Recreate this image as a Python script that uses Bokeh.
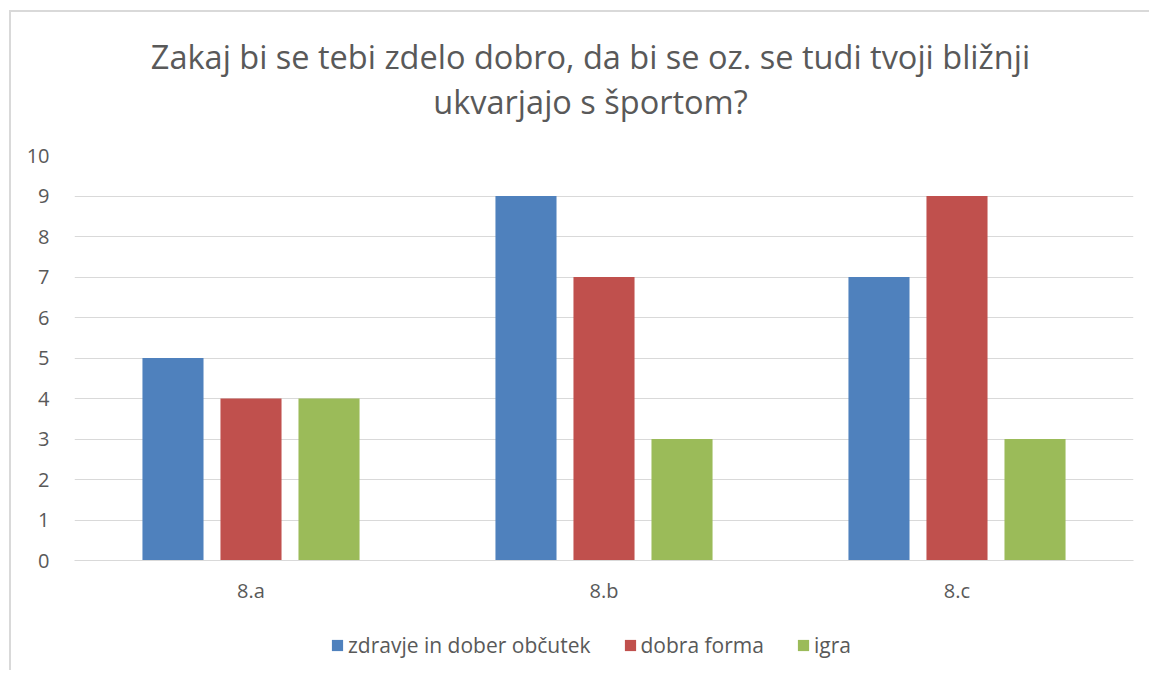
from bokeh.plotting import figure
from bokeh.models import Legend, LegendItem, FactorRange, ColumnDataSource, Label
from bokeh.layouts import column
from bokeh.transform import dodge
from bokeh.embed import file_html
from bokeh.resources import INLINE

categories = ["8.a", "8.b", "8.c"]
series_names = ["zdravje in dober občutek", "dobra forma", "igra"]
zdravje = [5, 9, 7]
forma = [4, 7, 9]
igra = [4, 3, 3]
colors = ["#4F81BD", "#C0504D", "#9BBB59"]
title_lines = ["Zakaj bi se tebi zdelo dobro, da bi se oz. se tudi tvoji bližnji",
               "ukvarjajo s športom?"]

FONT = "Open Sans"
GRAY = "#595959"
W = 1138
BL, BR = 63, 16          # borders shared by all stacked figures
FX0, FX1 = 74, 1133      # frame span on the page

def strip(h):
    f = figure(width=W, height=h, output_backend="svg", toolbar_location=None,
               x_range=(FX0, FX1), y_range=(0, h), x_axis_location=None, y_axis_location=None,
               min_border_left=BL, min_border_right=BR, min_border_top=0, min_border_bottom=0)
    f.outline_line_color = None
    f.grid.visible = False
    return f

# ---- title strip
pt = strip(128)
for txt, yb in zip(title_lines, [84, 39]):
    pt.add_layout(Label(x=590, y=yb, text=txt, text_align="center", text_baseline="alphabetic",
                        text_font=FONT, text_font_size="32.5px", text_color=GRAY))

# ---- main chart
src = ColumnDataSource(dict(cat=categories, a=zdravje, b=forma, c=igra))
p = figure(x_range=FactorRange(*categories, range_padding=0), y_range=(0, 10),
           width=W, height=480, output_backend="svg", toolbar_location=None,
           min_border_left=BL, min_border_right=BR, min_border_top=15,
           min_border_bottom=60)

for col, off, c in zip(["a", "b", "c"], [-0.221, 0.0, 0.221], colors):
    p.vbar(x=dodge("cat", off, range=p.x_range), top=col, width=0.173,
           source=src, fill_color=c, line_color=None)

p.outline_line_color = None
p.xgrid.grid_line_color = None
p.ygrid.grid_line_color = "#d9d9d9"
p.ygrid.grid_line_width = 1
p.yaxis.ticker = list(range(0, 11))
p.yaxis.axis_line_color = None
p.yaxis.major_tick_line_color = None
p.yaxis.minor_tick_line_color = None
p.yaxis.major_label_standoff = 19
p.xaxis.axis_line_color = "#d9d9d9"
p.xaxis.major_tick_line_color = None
p.xaxis.minor_tick_line_color = None
p.xaxis.major_label_standoff = 10
for ax in (p.xaxis, p.yaxis):
    ax.major_label_text_font = FONT
    ax.major_label_text_font_size = "20px"
    ax.major_label_text_color = GRAY

# ---- legend strip (proxy renderers hold no drawable point)
pl = strip(50)
nan = float("nan")
proxy_src = ColumnDataSource(dict(x=[nan], top=[nan]))
proxies = [pl.vbar(x="x", top="top", width=1, source=proxy_src, fill_color=c, line_color=None)
           for c in colors]
legend = Legend(items=[LegendItem(label=n, renderers=[r]) for n, r in zip(series_names, proxies)],
                orientation="horizontal", location=(330 - FX0, 11),
                label_text_font=FONT, label_text_font_size="21px", label_text_color=GRAY,
                glyph_width=14, glyph_height=14, label_standoff=4, spacing=32,
                border_line_color=None, background_fill_alpha=0, margin=0, padding=0)
pl.add_layout(legend, "center")

layout = column(pt, p, pl, spacing=0)
layout.styles = {"border-left": "2px solid #d9d9d9", "border-top": "2px solid #d9d9d9",
                 "margin-left": "9px", "margin-top": "10px"}

open("out.html", "w").write(file_html(layout, INLINE))
